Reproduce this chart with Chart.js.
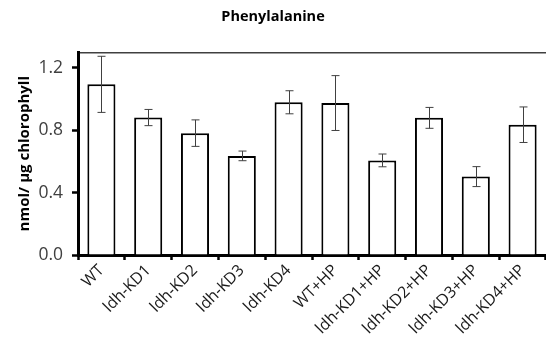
<!DOCTYPE html>
<html>
<head>
<meta charset="utf-8">
<script src="https://cdn.jsdelivr.net/npm/chart.js@4"></script>
<style>
  html, body { margin: 0; padding: 0; background: #fff; }
  #wrap { width: 546px; height: 354px; }
</style>
</head>
<body>
<div id="wrap"><canvas id="pheChart"></canvas></div>
<script>
var labels = ["WT", "ldh-KD1", "ldh-KD2", "ldh-KD3", "ldh-KD4",
  "WT+HP", "ldh-KD1+HP", "ldh-KD2+HP", "ldh-KD3+HP", "ldh-KD4+HP"];
var means = [1.095, 0.882, 0.782, 0.636, 0.980, 0.975, 0.607, 0.880, 0.503, 0.836];
var errors = [0.180, 0.052, 0.085, 0.031, 0.074, 0.176, 0.041, 0.067, 0.064, 0.114];
var yTicks = [0, 0.4, 0.8, 1.2];

var fontFam = "'Open Sans', Lato, sans-serif";

// error bars drawn on top of the bars using the y scale
var errorBarPlugin = {
  id: 'errorBars',
  afterDatasetsDraw: function(chart) {
    var ctx = chart.ctx;
    var meta = chart.getDatasetMeta(0);
    var y = chart.scales.y;
    ctx.save();
    ctx.strokeStyle = '#404040';
    ctx.lineWidth = 1;
    meta.data.forEach(function(bar, i) {
      var x = Math.round(bar.x) + 0.5;
      var top = y.getPixelForValue(means[i] + errors[i]);
      var bot = y.getPixelForValue(means[i] - errors[i]);
      ctx.beginPath();
      ctx.moveTo(x, top); ctx.lineTo(x, bot);
      ctx.moveTo(x - 4, top); ctx.lineTo(x + 4, top);
      ctx.moveTo(x - 4, bot); ctx.lineTo(x + 4, bot);
      ctx.stroke();
    });
    ctx.restore();
  }
};

new Chart(document.getElementById('pheChart'), {
  type: 'bar',
  data: {
    labels: labels,
    datasets: [{
      label: 'Phenylalanine',
      data: means,
      backgroundColor: '#ffffff',
      borderColor: '#000000',
      borderWidth: 2,
      barPercentage: 0.6,
      categoryPercentage: 1.0
    }]
  },
  options: {
    responsive: true,
    maintainAspectRatio: false,
    animation: false,
    layout: { padding: { left: 0, right: 0, top: 0, bottom: 0 } },
    plugins: {
      legend: { display: false },
      tooltip: { enabled: false },
      title: {
        display: true,
        text: 'Phenylalanine',
        color: '#000000',
        font: { family: fontFam, size: 14.5, weight: 'bold' },
        padding: { top: 8, bottom: 27 }
      }
    },
    scales: {
      x: {
        grid: {
          display: true,
          drawOnChartArea: false,
          drawTicks: true,
          tickLength: 5,
          tickWidth: 2.5,
          tickColor: '#000000',
          offset: true
        },
        border: { color: '#000000', width: 3 },
        ticks: {
          color: '#1a1a1a',
          font: { family: fontFam, size: 16 },
          maxRotation: 45,
          minRotation: 45,
          padding: 1
        },
        afterFit: function(scale) { scale.height = 99; }
      },
      x2: {
        position: 'top',
        grid: { display: false, drawTicks: false },
        border: { color: '#404040', width: 1.5 },
        ticks: { display: false },
        afterFit: function(scale) { scale.height = 0; }
      },
      y: {
        min: 0,
        max: 1.3,
        afterBuildTicks: function(scale) {
          scale.ticks = yTicks.map(function(v) { return { value: v }; });
        },
        grid: {
          display: true,
          drawOnChartArea: false,
          tickLength: 6,
          tickWidth: 2.5,
          tickColor: '#000000'
        },
        border: { color: '#000000', width: 3 },
        ticks: {
          color: '#404040',
          font: { family: fontFam, size: 17.5 },
          padding: 9,
          callback: function(v) { return v.toFixed(1); }
        },
        title: {
          display: true,
          text: 'nmol/ µg chlorophyll',
          color: '#000000',
          font: { family: fontFam, size: 15, weight: 'bold' },
          padding: { top: 16, bottom: 6 }
        },
        afterFit: function(scale) { scale.width = 78; }
      }
    }
  },
  plugins: [errorBarPlugin]
});
</script>
</body>
</html>
